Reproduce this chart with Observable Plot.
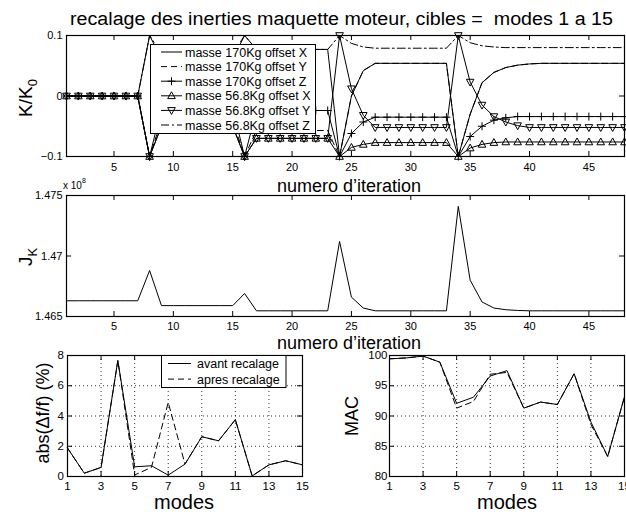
<!DOCTYPE html>
<html><head><meta charset="utf-8">
<script src="https://cdn.jsdelivr.net/npm/d3@7"></script>
<script src="https://cdn.jsdelivr.net/npm/@observablehq/plot@0.6"></script>
<style>
body{margin:0;background:#fff;}
#root{position:relative;width:626px;height:516px;overflow:hidden;}
</style></head><body><div id="root"></div>
<script>
// ---------------- DATA ----------------
const titleText = "recalage des inerties maquette moteur, cibles =  modes 1 a 15";
const iterations = d3.range(1, 49);
const iterTicks = [5, 10, 15, 20, 25, 30, 35, 40, 45];
const kTicks = [-0.1, 0, 0.1];
const seriesNames = ["masse 170Kg offset X", "masse 170Kg offset Y", "masse 170Kg offset Z",
                     "masse 56.8Kg offset X", "masse 56.8Kg offset Y", "masse 56.8Kg offset Z"];
const rep = (v, n) => Array(n).fill(v);
const m170X = [...rep(0,7), 0.1, ...rep(0.061,7), 0.1, ...rep(0.077,7), -0.1, 0.0, 0.042, ...rep(0.054,7),
               -0.1, -0.03, 0.022, 0.039, 0.047, 0.051, 0.053, ...rep(0.054,8)];
const m170Y = [...rep(0,7), -0.1, ...rep(-0.04,7), -0.1, ...rep(-0.057,7), -0.1, 0.0, 0.042, ...rep(0.054,7),
               -0.1, -0.03, 0.022, 0.039, 0.047, 0.051, 0.053, ...rep(0.054,8)];
const m170Z = [...rep(0,7), -0.1, ...rep(-0.02,7), -0.1, ...rep(-0.024,7), -0.1, -0.062, -0.043, ...rep(-0.035,7),
               -0.1, -0.067, -0.05, -0.04, -0.036, ...rep(-0.034,10)];
const m56X  = [...rep(0,7), -0.1, ...rep(-0.05,7), -0.1, ...rep(-0.07,7), -0.1, -0.085, -0.08, ...rep(-0.077,7),
               -0.1, -0.086, -0.08, -0.077, ...rep(-0.076,11)];
const m56Y  = [...rep(0,7), -0.1, ...rep(-0.05,7), -0.1, ...rep(-0.07,7), 0.1, 0.012, -0.032, ...rep(-0.052,7),
               0.1, 0.023, -0.015, -0.034, -0.043, -0.049, ...rep(-0.052,9)];
const m56Z  = [...rep(0,7), 0.1, ...rep(0.07,7), 0.1, ...rep(0.077,7), 0.1, 0.087, 0.081, ...rep(0.079,7),
               0.1, 0.088, 0.083, 0.081, ...rep(0.08,11)];
const seriesValues = [m170X, m170Y, m170Z, m56X, m56Y, m56Z];

// J_K (x 10^8)
const jkExponent = 8;
const jkTicks = [1.465, 1.47, 1.475];
const jk = [...rep(1.4663,7), 1.4688, ...rep(1.4659,7), 1.4669, ...rep(1.46547,7), 1.4712, 1.4666, 1.4657,
            ...rep(1.46547,7), 1.4741, 1.468, 1.4662, 1.4657, 1.46556, 1.4655, ...rep(1.46547,9)];

// modes
const modes = d3.range(1, 16);
const modeTicks = [1, 3, 5, 7, 9, 11, 13, 15];
const dfTicks = [0, 2, 4, 6, 8];
const macTicks = [80, 85, 90, 95, 100];
const compNames = ["avant recalage", "apres recalage"];
const dfAvant = [1.88, 0.22, 0.6, 7.67, 0.64, 0.71, 0.09, 0.82, 2.63, 2.36, 3.76, 0.04, 0.77, 1.04, 0.77];
const dfApres = [1.88, 0.22, 0.6, 7.67, 0.1, 0.6, 4.9, 0.82, 2.63, 2.36, 3.76, 0.04, 0.77, 1.04, 0.77];
const macAvant = [99.45, 99.6, 99.9, 98.9, 92.1, 93.1, 96.6, 97.5, 91.3, 92.3, 91.9, 97.0, 89.0, 83.3, 93.2];
const macApres = [99.45, 99.6, 99.9, 98.9, 91.3, 92.4, 96.9, 97.2, 91.3, 92.3, 91.9, 97.0, 88.6, 83.3, 93.2];

// ---------------- STYLES ----------------
const FONT = '"Liberation Sans", Arial, Helvetica, sans-serif';
const rOf = size => Math.sqrt(size / Math.PI);
const triUp = {draw(c, s){ const r = rOf(s); c.moveTo(0,-r); c.lineTo(r*0.95, r*0.7); c.lineTo(-r*0.95, r*0.7); c.closePath(); }};
const triDown = {draw(c, s){ const r = rOf(s); c.moveTo(0,r); c.lineTo(r*0.95,-r*0.7); c.lineTo(-r*0.95,-r*0.7); c.closePath(); }};
const plusSym = {draw(c, s){ const r = rOf(s); c.moveTo(-r,0); c.lineTo(r,0); c.moveTo(0,-r); c.lineTo(0,r); }};
const seriesDash = [null, "6,4", null, null, null, "8,3,2,3"];
const seriesSym = [null, null, plusSym, triUp, triDown, null];
const compDash = [null, "6,4"];

const root = document.getElementById("root");
function place(el, left, top){ el.style.position = "absolute"; el.style.left = left + "px"; el.style.top = top + "px"; root.appendChild(el); }
const baseStyle = {fontFamily: FONT, fontSize: "11px", color: "black", background: "transparent", overflow: "visible"};

function inward(xt, yt, fw, fh, len = 5){
  return [
    Plot.tickX(xt, {x: d => d, insetTop: fh - len, stroke: "black"}),
    Plot.tickX(xt, {x: d => d, insetBottom: fh - len, stroke: "black"}),
    Plot.tickY(yt, {y: d => d, insetRight: fw - len, stroke: "black"}),
    Plot.tickY(yt, {y: d => d, insetLeft: fw - len, stroke: "black"})
  ];
}

// ---------------- TOP PLOT ----------------
const topMarks = [];
seriesValues.forEach((vals, i) => {
  const rows = iterations.map((it, j) => ({it, v: vals[j]}));
  topMarks.push(Plot.line(rows, {x: "it", y: "v", stroke: "black", strokeWidth: 1, strokeDasharray: seriesDash[i]}));
});
seriesValues.forEach((vals, i) => {
  if (!seriesSym[i]) return;
  const rows = iterations.map((it, j) => ({it, v: vals[j]}));
  topMarks.push(Plot.dot(rows, {x: "it", y: "v", symbol: seriesSym[i], r: 4, stroke: "black", fill: "none", strokeWidth: 1}));
});
const fmtK = d3.format("~g");
const topPlot = Plot.plot({
  width: 626, height: 190, marginTop: 35, marginBottom: 34, marginLeft: 66, marginRight: 2,
  style: baseStyle,
  x: {domain: [1, 48]}, y: {domain: [-0.1, 0.1]},
  marks: [
    ...topMarks,
    ...inward(iterTicks, kTicks, 558, 121),
    Plot.axisX(iterTicks, {tickSize: 0, tickPadding: 7, label: null}),
    Plot.axisY(kTicks, {tickSize: 0, tickPadding: 4, label: null, tickFormat: fmtK}),
    Plot.frame({stroke: "black", strokeWidth: 1.2})
  ]
});
place(topPlot, 0, 0);

// ---------------- MIDDLE PLOT ----------------
const midPlot = Plot.plot({
  width: 626, height: 170, marginTop: 25, marginBottom: 24, marginLeft: 66, marginRight: 2,
  style: baseStyle,
  x: {domain: [1, 48]}, y: {domain: [1.465, 1.475]},
  marks: [
    Plot.line(iterations.map((it, j) => ({it, v: jk[j]})), {x: "it", y: "v", stroke: "black", strokeWidth: 1}),
    ...inward(iterTicks, jkTicks, 558, 121),
    Plot.axisX(iterTicks, {tickSize: 0, tickPadding: 6, label: null}),
    Plot.axisY(jkTicks, {tickSize: 0, tickPadding: 4, label: null, tickFormat: d => String(+d.toFixed(3))}),
    Plot.frame({stroke: "black", strokeWidth: 1.2})
  ]
});
place(midPlot, 0, 170);

// ---------------- BOTTOM PLOTS ----------------
function bottomPlot(a, b, yDomain, yTicks, mLeft, width, mRight, yPad){
  const fw = width - mLeft - mRight, fh = 121;
  const inner = yTicks.slice(1, -1);
  const innerX = modeTicks.slice(1, -1);
  return Plot.plot({
    width, height: 176, marginTop: 15, marginBottom: 40, marginLeft: mLeft, marginRight: mRight,
    style: {...baseStyle, fontSize: "11.5px"},
    x: {domain: [1, 15]}, y: {domain: yDomain},
    marks: [
      Plot.ruleX(innerX, {x: d => d, stroke: "black", strokeWidth: 0.8, strokeDasharray: "1,3"}),
      Plot.ruleY(inner, {y: d => d, stroke: "black", strokeWidth: 0.8, strokeDasharray: "1,3"}),
      Plot.line(modes.map((m, j) => ({m, v: b[j]})), {x: "m", y: "v", stroke: "black", strokeWidth: 1, strokeDasharray: compDash[1]}),
      Plot.line(modes.map((m, j) => ({m, v: a[j]})), {x: "m", y: "v", stroke: "black", strokeWidth: 1}),
      ...inward(modeTicks, yTicks, fw, fh),
      Plot.axisX(modeTicks, {tickSize: 0, tickPadding: 5, label: null}),
      Plot.axisY(yTicks, {tickSize: 0, tickPadding: yPad, label: null}),
      Plot.frame({stroke: "black", strokeWidth: 1.2})
    ]
  });
}
place(bottomPlot(dfAvant, dfApres, [0, 8], dfTicks, 67, 310, 8, 3.5), 0, 340);
place(bottomPlot(macAvant, macApres, [80, 100], macTicks, 79, 316, 2, 2), 310, 340);

// ---------------- TEXT + LEGENDS OVERLAY ----------------
const ov = d3.create("svg").attr("width", 626).attr("height", 516)
  .style("position", "absolute").style("left", "0px").style("top", "0px")
  .style("font-family", FONT).attr("fill", "black");
ov.append("text").attr("x", 341.5).attr("y", 25).attr("text-anchor", "middle").attr("font-size", 18)
  .attr("textLength", 543).attr("lengthAdjust", "spacingAndGlyphs")
  .text(titleText.replace(/  /g, " \u00a0"));

// y labels
const kl = ov.append("text").attr("transform", "translate(32,98) rotate(-90)").attr("text-anchor", "middle").attr("font-size", 19);
kl.append("tspan").text("K/K");
kl.append("tspan").attr("font-size", 13).attr("dy", 5).text("0");
const jl = ov.append("text").attr("transform", "translate(32,257) rotate(-90)").attr("text-anchor", "middle").attr("font-size", 19);
jl.append("tspan").text("J");
jl.append("tspan").attr("font-size", 13).attr("dy", 5).text("K");
ov.append("text").attr("transform", "translate(49,413) rotate(-90)").attr("text-anchor", "middle").attr("font-size", 18).text("abs(\u0394f/f) (%)");
ov.append("text").attr("transform", "translate(358,416) rotate(-90)").attr("text-anchor", "middle").attr("font-size", 18).text("MAC");

// x labels
ov.append("text").attr("x", 349).attr("y", 192).attr("text-anchor", "middle").attr("font-size", 18).text("numero d\u2019iteration");
ov.append("text").attr("x", 349).attr("y", 349).attr("text-anchor", "middle").attr("font-size", 18).text("numero d\u2019iteration");
ov.append("text").attr("x", 184).attr("y", 509).attr("text-anchor", "middle").attr("font-size", 20).text("modes");
ov.append("text").attr("x", 507).attr("y", 509).attr("text-anchor", "middle").attr("font-size", 20).text("modes");

// exponent
const ex = ov.append("text").attr("x", 63).attr("y", 189).attr("font-size", 10);
ex.append("tspan").text("x 10");
ex.append("tspan").attr("font-size", 7).attr("dy", -6).text(String(jkExponent));

// top legend
const lg = ov.append("g");
lg.append("rect").attr("x", 150.5).attr("y", 44.5).attr("width", 165).attr("height", 89)
  .attr("fill", "white").attr("stroke", "black").attr("stroke-width", 1);
seriesNames.forEach((name, i) => {
  const cy = 52 + i * 14.6;
  lg.append("line").attr("x1", 161).attr("x2", 182).attr("y1", cy).attr("y2", cy)
    .attr("stroke", "black").attr("stroke-width", 1).attr("stroke-dasharray", seriesDash[i]);
  if (seriesSym[i]) lg.append("path").attr("d", d3.symbol(seriesSym[i], Math.PI * 16)())
    .attr("transform", `translate(171.5,${cy})`).attr("fill", "none").attr("stroke", "black");
  lg.append("text").attr("x", 185).attr("y", cy + 4.5).attr("font-size", 12.5).text(name);
});

// bottom-left legend
const lg2 = ov.append("g");
lg2.append("rect").attr("x", 161.5).attr("y", 355.5).attr("width", 124.5).attr("height", 32)
  .attr("fill", "white").attr("stroke", "black").attr("stroke-width", 1);
compNames.forEach((name, i) => {
  const cy = 363.5 + i * 15.6;
  lg2.append("line").attr("x1", 168).attr("x2", 191).attr("y1", cy).attr("y2", cy)
    .attr("stroke", "black").attr("stroke-dasharray", compDash[i]);
  lg2.append("text").attr("x", 197).attr("y", cy + 4.5).attr("font-size", 12.5).text(name);
});
root.appendChild(ov.node());
</script>
</body></html>
